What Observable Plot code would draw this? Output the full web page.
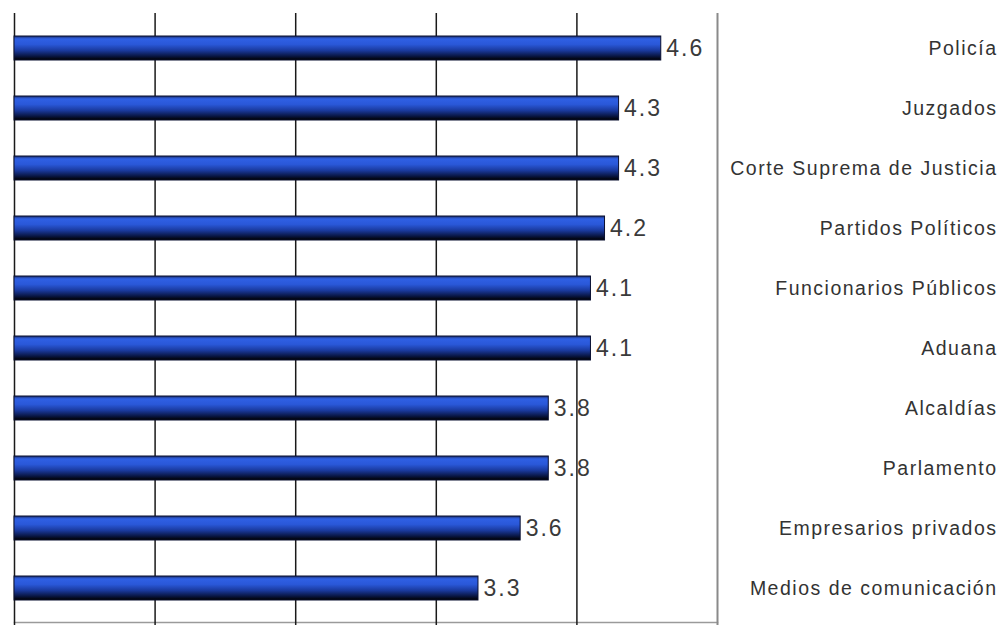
<!DOCTYPE html>
<html>
<head>
<meta charset="utf-8">
<script src="https://cdn.jsdelivr.net/npm/d3@7"></script>
<script src="https://cdn.jsdelivr.net/npm/@observablehq/plot@0.6"></script>
<style>
  html, body { margin: 0; padding: 0; background: #fff; }
  #chart svg { display: block; }
</style>
</head>
<body>
<div id="chart"></div>
<script>
const categories = [
  "Policía", "Juzgados", "Corte Suprema de Justicia", "Partidos Políticos",
  "Funcionarios Públicos", "Aduana", "Alcaldías", "Parlamento",
  "Empresarios privados", "Medios de comunicación"
];
const values = [4.6, 4.3, 4.3, 4.2, 4.1, 4.1, 3.8, 3.8, 3.6, 3.3];
const gridTicks = [0, 1, 2, 3, 4];
const borderTick = [5];

const data = categories.map((name, i) => ({name, value: values[i]}));

const chart = Plot.plot({
  width: 1005,
  height: 625,
  marginLeft: 14,
  marginRight: 288,
  marginTop: 13,
  marginBottom: 3,
  style: {background: "#fff", fontFamily: "'Liberation Sans', Arial, sans-serif"},
  x: {domain: [0, 5], axis: null},
  y: {domain: categories, axis: null, paddingInner: 0.6, paddingOuter: 0.3},
  marks: [
    Plot.frame({anchor: "bottom", stroke: "#9a9a9a", strokeWidth: 1.5}),
    Plot.ruleX(gridTicks, {stroke: "#1a1a1a", strokeWidth: 1.5, insetBottom: -3}),
    Plot.ruleX(borderTick, {stroke: "#8a8a8a", strokeWidth: 2, insetBottom: -3}),
    Plot.barX(data, {x: "value", y: "name", fill: "url(#barGrad)", stroke: "#0a1030", strokeWidth: 1}),
    Plot.text(data, {x: "value", y: "name", text: d => d.value.toFixed(1), textAnchor: "start", dx: 5,
      fontSize: 23, fill: "#3a3a3a", className: "vlab"}),
    Plot.text(data, {y: "name", text: "name", frameAnchor: "right", dx: 280, textAnchor: "end",
      fontSize: 19.5, fill: "#333", className: "clab"})
  ]
});

const svg = d3.select(chart);
const defs = svg.insert("defs", ":first-child");
const g = defs.append("linearGradient").attr("id", "barGrad")
  .attr("x1", 0).attr("y1", 0).attr("x2", 0).attr("y2", 1);
[[0, "#1a2c6a"], [0.12, "#2f60e4"], [0.35, "#2a58d8"], [0.6, "#1a3a9e"], [0.85, "#08143e"], [1, "#000"]]
  .forEach(([o, c]) => g.append("stop").attr("offset", o).attr("stop-color", c));
svg.selectAll(".clab text").style("letter-spacing", "1.5px");
svg.selectAll(".vlab text").style("letter-spacing", "2px");

document.getElementById("chart").appendChild(chart);
</script>
</body>
</html>
